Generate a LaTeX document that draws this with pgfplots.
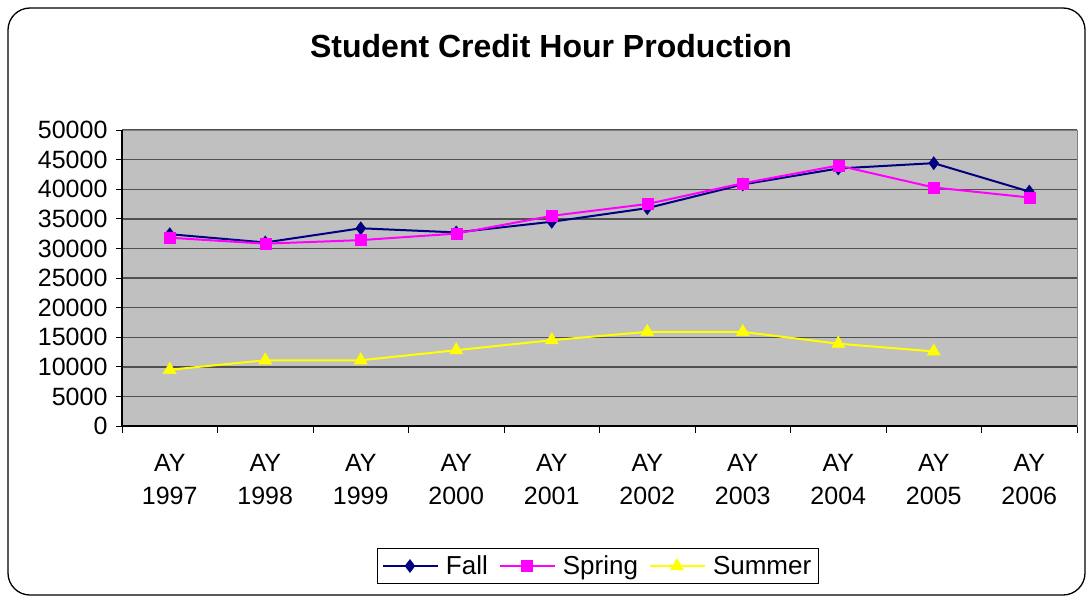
\documentclass[border=0pt]{standalone}
\usepackage{pgfplots}
\pgfplotsset{compat=1.18}
\usepackage{fontspec}
\setmainfont{Liberation Sans}
\definecolor{fallc}{RGB}{0,0,128}
\definecolor{springc}{RGB}{255,0,255}
\definecolor{summerc}{RGB}{255,255,0}
\definecolor{bgc}{RGB}{192,192,192}
\definecolor{gridc}{RGB}{80,80,80}
\begin{document}
\begin{tikzpicture}
\useasboundingbox (-122pt,-172pt) rectangle (969pt,426pt);
\draw[black, line width=1.3pt, rounded corners=22pt] (-114pt,-169pt) rectangle (963pt,418pt);
\begin{axis}[
  at={(0pt,0pt)}, anchor=south west,
  scale only axis, width=955pt, height=296pt,
  xmin=-0.5, xmax=9.5, ymin=0, ymax=50000,
  clip=false,
  axis background/.style={fill=bgc},
  axis line style={draw=gray, line width=1pt},
  ytick={0,5000,...,50000},
  xtick={0,...,9},
  xtick pos=bottom, ytick pos=left,
  xticklabels={{AY\\1997},{AY\\1998},{AY\\1999},{AY\\2000},{AY\\2001},{AY\\2002},{AY\\2003},{AY\\2004},{AY\\2005},{AY\\2006}},
  minor xtick={-0.5,0.5,...,9.5},
  major tick length=6pt, minor tick length=7pt,
  tick align=outside,
  xtick style={draw=none},
  minor x tick style={draw=black, line width=0.8pt},
  ytick style={draw=black, line width=0.8pt},
  ymajorgrids, grid style={draw=gridc, line width=1.4pt},
  scaled y ticks=false,
  /pgf/number format/.cd, fixed, set thousands separator={}, assume math mode=true,
  /pgfplots/.cd,
  yticklabel style={font=\fontsize{25}{28}\selectfont, xshift=-5pt},
  xticklabel style={font=\fontsize{25}{33}\selectfont, align=center, yshift=-19pt},
  title={\textbf{Student Credit Hour Production}},
  title style={font=\fontsize{32}{36}\selectfont, at={(429pt,374pt)}, anchor=center},
  legend columns=3,
  legend style={at={(0.498,-0.473)}, anchor=center, draw=black, line width=0.8pt,
    font=\fontsize{26}{30}\selectfont, inner xsep=5pt, inner ysep=5pt,
    /tikz/every odd column/.append style={column sep=5pt},
    /tikz/every even column/.append style={column sep=9pt}},
  legend image code/.code={\draw[mark repeat=2,mark phase=2] plot coordinates {(0pt,0pt)(27pt,0pt)(55pt,0pt)};},
]
\addplot[color=fallc, line width=2pt, mark=diamond*, mark size=6.5pt, mark options={fill=fallc, line width=0.5pt}] coordinates {
(0,32400) (1,31000) (2,33400) (3,32700) (4,34500) (5,36800) (6,40800) (7,43500) (8,44400) (9,39600)};
\addlegendentry{Fall}
\addplot[color=springc, line width=2pt, mark=square*, mark size=5.5pt, mark options={fill=springc, line width=0.5pt}] coordinates {
(0,31800) (1,30800) (2,31400) (3,32500) (4,35500) (5,37500) (6,41000) (7,44000) (8,40300) (9,38600)};
\addlegendentry{Spring}
\addplot[color=summerc, line width=2pt, mark=triangle*, mark size=7.5pt, mark options={fill=summerc, line width=0.5pt}] coordinates {
(0,9500) (1,11100) (2,11100) (3,12800) (4,14500) (5,15900) (6,15900) (7,13900) (8,12600)};
\addlegendentry{Summer}
\draw[black, line width=1.3pt] (rel axis cs:0,1) -- (rel axis cs:0,0) -- (rel axis cs:1,0);
\end{axis}
\end{tikzpicture}
\end{document}
